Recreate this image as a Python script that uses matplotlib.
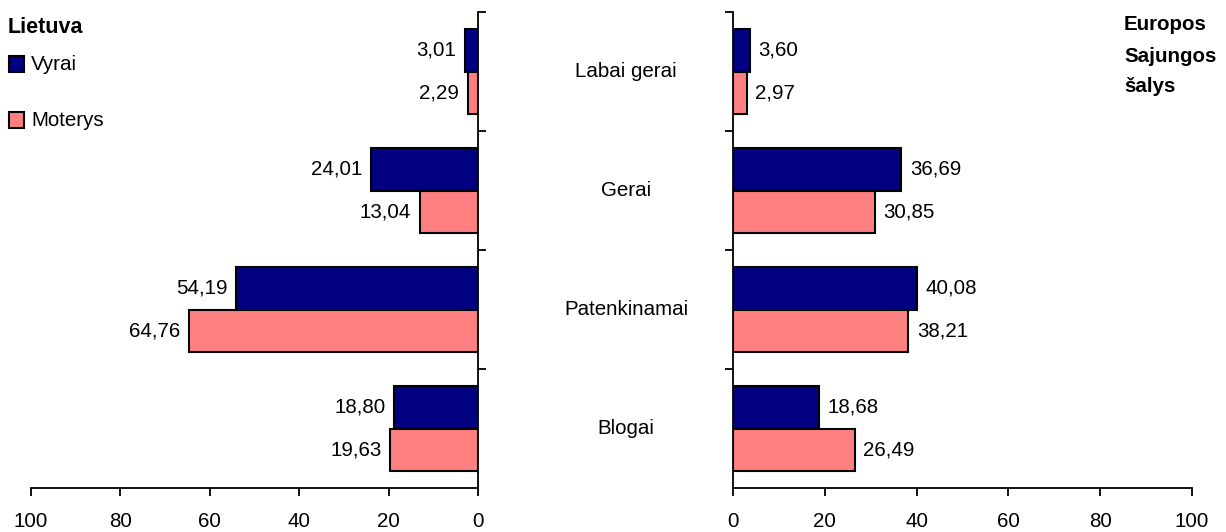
import matplotlib.pyplot as plt
from matplotlib.patches import Rectangle

plt.rcParams['font.family'] = ['Liberation Sans', 'DejaVu Sans']

categories = ["Labai gerai", "Gerai", "Patenkinamai", "Blogai"]
lt_vyrai = [3.01, 24.01, 54.19, 18.80]
lt_moterys = [2.29, 13.04, 64.76, 19.63]
es_vyrai = [3.60, 36.69, 40.08, 18.68]
es_moterys = [2.97, 30.85, 38.21, 26.49]
ticks = [0, 20, 40, 60, 80, 100]

navy = "#000080"
pink = "#FF8080"
W, H = 1226, 532
fs = 14.8

fig = plt.figure(figsize=(W / 100, H / 100), dpi=100)

top = 1 - 12 / H
bot = 1 - 488 / H
axL = fig.add_axes([31 / W, bot, (478 - 31) / W, top - bot])
axR = fig.add_axes([733 / W, bot, (1192 - 733) / W, top - bot])

y = list(range(len(categories)))
h = 0.356


def fmt(v):
    return ("%.2f" % v).replace(".", ",")


for ax, men, women, side in [(axL, lt_vyrai, lt_moterys, "left"), (axR, es_vyrai, es_moterys, "right")]:
    ax.barh([v - h / 2 for v in y], men, height=h, color=navy, edgecolor="black", linewidth=1.5)
    ax.barh([v + h / 2 for v in y], women, height=h, color=pink, edgecolor="black", linewidth=1.5)
    ax.set_ylim(3.5, -0.5)
    ax.set_xticks(ticks)
    ax.tick_params(axis="x", labelsize=fs, length=6, width=1.3, pad=11)
    ax.set_yticks([-0.5, 0.5, 1.5, 2.5])
    ax.set_yticklabels([])
    ax.tick_params(axis="y", length=6, width=1.3)
    ax.spines["top"].set_visible(False)
    for s in ax.spines.values():
        s.set_linewidth(1.3)
    for i in y:
        for val, off in [(men[i], -h / 2), (women[i], h / 2)]:
            if side == "left":
                ax.text(val + 1.9, i + off, fmt(val), ha="right", va="center", fontsize=fs)
            else:
                ax.text(val + 1.9, i + off, fmt(val), ha="left", va="center", fontsize=fs)

axL.set_xlim(100, 0)
axL.spines["left"].set_visible(False)
axL.yaxis.tick_right()
axR.set_xlim(0, 100)
axR.spines["right"].set_visible(False)

for i, c in enumerate(categories):
    yy = bot + (top - bot) * (1 - (i + 0.5) / 4)
    fig.text(626 / W, yy, c, ha="center", va="center", fontsize=fs)

# legend
fig.text(8 / W, 1 - 28 / H, "Lietuva", fontsize=15.5, fontweight="bold", va="center")
for ypx, col, lab in [(64, navy, "Vyrai"), (120, pink, "Moterys")]:
    fig.patches.append(Rectangle((9 / W, 1 - (ypx + 7.5) / H), 15 / W, 15 / H,
                                 facecolor=col, edgecolor="black", linewidth=1.5,
                                 transform=fig.transFigure, figure=fig))
    fig.text(31 / W, 1 - ypx / H, lab, fontsize=fs, va="center")

for k, t in enumerate(["Europos", "Sajungos", "šalys"]):
    fig.text(1124 / W, 1 - (25 + 31 * k) / H, t, fontsize=fs, fontweight="bold", va="center")

fig.savefig("out.png", dpi=100)
